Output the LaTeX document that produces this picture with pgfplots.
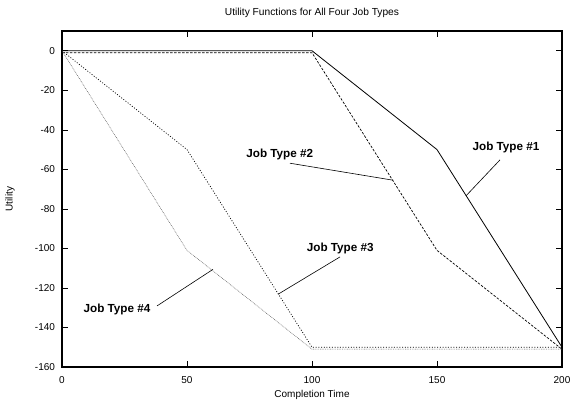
\documentclass[border=0pt]{standalone}
\usepackage{fontspec}
\setmainfont{Liberation Sans}
\usepackage{pgfplots}
\pgfplotsset{compat=1.18}
\begin{document}
\begin{tikzpicture}[x=1pt,y=1pt]
\begin{axis}[
  name=ax,
  scale only axis,
  width=500pt, height=336pt,
  xmin=0, xmax=200, ymin=-160, ymax=10,
  xtick={0,50,100,150,200},
  ytick={-160,-140,-120,-100,-80,-60,-40,-20,0},
  tick align=inside,
  major tick length=6pt,
  axis line style={line width=1.2pt},
  tick style={black, line width=0.6pt},
  /pgf/number format/assume math mode=true,
  tick label style={font=\fontsize{10}{12}\selectfont},
  xticklabel style={yshift=-6pt},
  yticklabel style={xshift=-3.5pt},
  xlabel={Completion Time},
  ylabel={Utility},
  label style={font=\fontsize{10}{12}\selectfont},
  xlabel style={at={(axis description cs:0.5,-0.0833)}, anchor=center},
  ylabel style={at={(axis description cs:-0.104,0.5)}, anchor=center},
  title={Utility Functions for All Four Job Types},
  every axis title shift=0pt,
  title style={font=\fontsize{10.2}{12}\selectfont, at={(axis description cs:0.5,1.0536)}, anchor=center},
  clip=false,
]
\addplot[black, line width=0.8pt] coordinates {(0,0) (100,0) (150,-50) (200,-150)};
\addplot[black, line width=0.7pt, dash pattern=on 2.5pt off 1.5pt] coordinates {(0,-1) (100,-1) (150,-101) (200,-151)};
\addplot[black, line width=0.7pt, dash pattern=on 1pt off 1.7pt] coordinates {(0,0) (50,-50) (100,-150) (200,-150)};
\addplot[black!65, line width=0.5pt, dash pattern=on 0.8pt off 0.9pt] coordinates {(0,0) (50,-101) (100,-151) (200,-151)};
% label leaders
\addplot[black, line width=0.6pt] coordinates {(175.2,-55.2) (161.6,-73.4)};
\addplot[black, line width=0.6pt] coordinates {(91.2,-56.9) (132.5,-65.5)};
\addplot[black, line width=0.6pt] coordinates {(111.2,-104.3) (86.4,-123.2)};
\addplot[black, line width=0.6pt] coordinates {(38,-129.1) (60.4,-110.6)};
\node[font=\bfseries\fontsize{11.7}{13}\selectfont] at (axis cs:177.6,-49.1) {Job Type \#1};
\node[font=\bfseries\fontsize{11.7}{13}\selectfont] at (axis cs:87.1,-52.7) {Job Type \#2};
\node[font=\bfseries\fontsize{11.7}{13}\selectfont] at (axis cs:111.3,-99.9) {Job Type \#3};
\node[font=\bfseries\fontsize{11.7}{13}\selectfont] at (axis cs:22,-131.1) {Job Type \#4};
\end{axis}
\pgfresetboundingbox
\path ([xshift=-62pt,yshift=-33pt]ax.south west) rectangle ([xshift=9pt,yshift=31pt]ax.north east);
\end{tikzpicture}
\end{document}
